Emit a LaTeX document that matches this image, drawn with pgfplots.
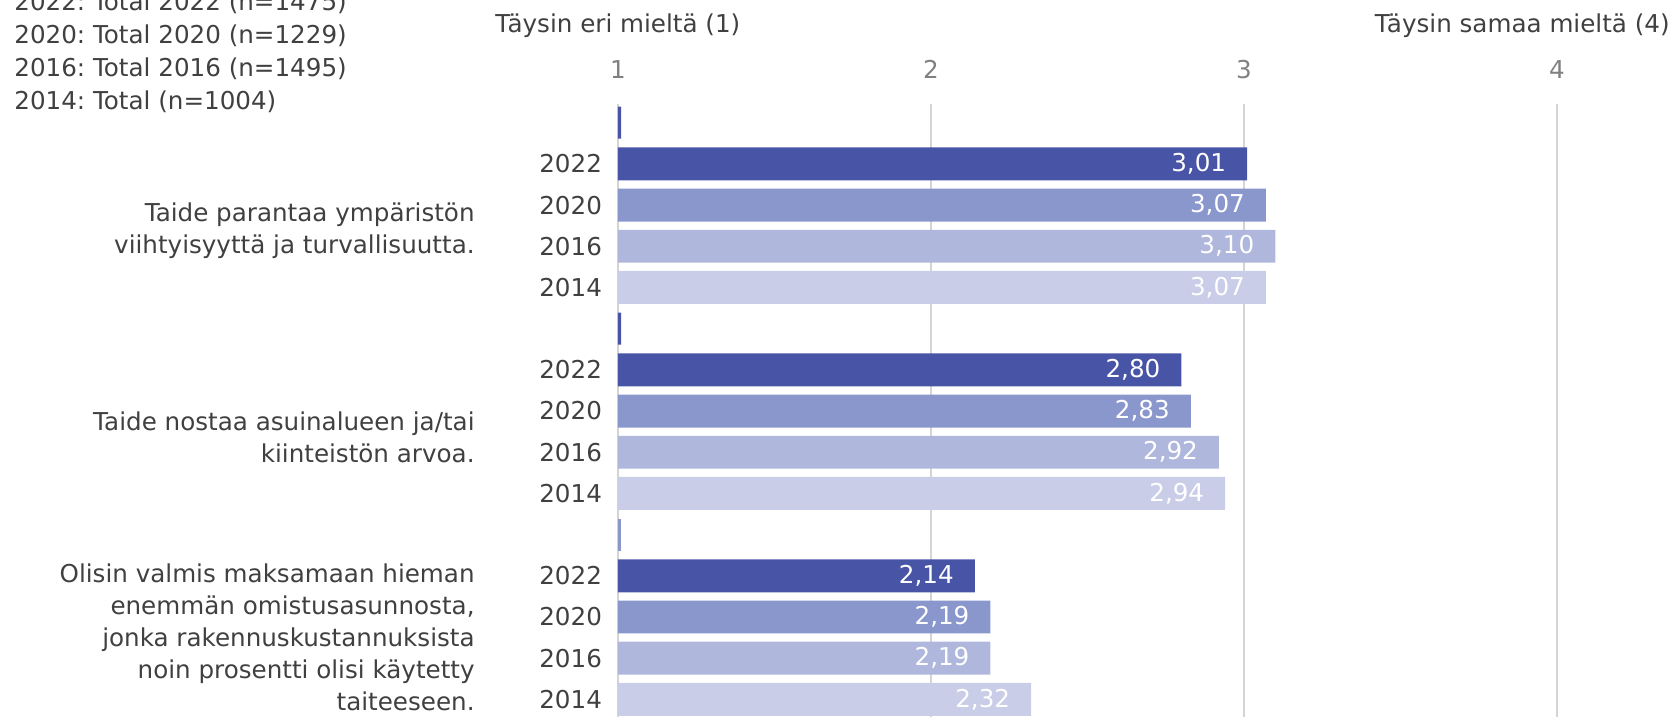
\documentclass[border=0pt]{standalone}
\usepackage{fontspec}
\setmainfont{DejaVu Sans}
\usepackage{pgfplots}
\pgfplotsset{compat=1.18}
\definecolor{c22}{HTML}{4854A5}
\definecolor{c20}{HTML}{8A97CD}
\definecolor{c16}{HTML}{B0B7DD}
\definecolor{c14}{HTML}{C9CDE8}
\definecolor{txt}{HTML}{404040}
\definecolor{tickgray}{HTML}{808080}
\definecolor{gridgray}{HTML}{D4D4D4}
\begin{document}
\begin{tikzpicture}[font=\fontsize{12.3}{16}\selectfont]
\begin{axis}[
  at={(0,0)}, anchor=north west,
  scale only axis, width=469.5pt, height=306.5pt,
  xmin=1, xmax=4, ymin=-0.46, ymax=14.42, y dir=reverse,
  enlargelimits=false,
  xbar, bar shift=0pt, bar width=0.8,
  axis line style={draw=none}, major tick length=0pt,
  xtick={1,2,3,4}, xticklabel pos=upper,
  xticklabel style={text=tickgray, anchor=center, yshift=17pt},
  xmajorgrids, grid style={gridgray, line width=0.6pt},
  ytick={1,2,3,4,6,7,8,9,11,12,13,14},
  yticklabels={2022,2020,2016,2014,2022,2020,2016,2014,2022,2020,2016,2014},
  yticklabel style={text=txt, xshift=-4.5pt},
  /pgf/number format/assume math mode=true,
  point meta=x,
  nodes near coords={\pgfmathprintnumber[fixed,zerofill,precision=2,use comma]{\pgfplotspointmeta}},
  every node near coord/.append style={anchor=east, xshift=-7pt, text=white},
  clip mode=individual,
]
% small marker bars in the empty first row of each group
\addplot[fill=c22, draw=none, bar width=0.78, nodes near coords={}] coordinates {(1.01,0) (1.01,5)};
\addplot[fill=c20, draw=none, bar width=0.78, nodes near coords={}] coordinates {(1.01,10)};
\addplot[fill=c22, draw=none] coordinates {(3.01,1) (2.80,6) (2.14,11)};
\addplot[fill=c20, draw=none] coordinates {(3.07,2) (2.83,7) (2.19,12)};
\addplot[fill=c16, draw=none] coordinates {(3.10,3) (2.92,8) (2.19,13)};
\addplot[fill=c14, draw=none] coordinates {(3.07,4) (2.94,9) (2.32,14)};

\node[anchor=east, align=right, text=txt, inner sep=0pt, xshift=-71.5pt, yshift=-2.7pt] at (axis cs:1,2.5)
  {Taide parantaa ympäristön\\viihtyisyyttä ja turvallisuutta.};
\node[anchor=east, align=right, text=txt, inner sep=0pt, xshift=-71.5pt, yshift=-2.7pt] at (axis cs:1,7.5)
  {Taide nostaa asuinalueen ja/tai\\kiinteistön arvoa.};
\node[anchor=east, align=right, text=txt, inner sep=0pt, xshift=-71.5pt] at (axis cs:1,12.5)
  {Olisin valmis maksamaan hieman\\enemmän omistusasunnosta,\\jonka rakennuskustannuksista\\noin prosentti olisi käytetty\\taiteeseen.};
\end{axis}
% scale end labels and legend text
\begin{scope}[every node/.style={text=txt, inner sep=0pt}]
\node[anchor=west] at (-61.5pt,39pt) {Täysin eri mieltä (1)};
\node[anchor=east] at (526pt,39pt) {Täysin samaa mieltä (4)};
\node[anchor=west] at (-302pt,50.5pt) {2022:\ Total 2022 (n=1475)};
\node[anchor=west] at (-302pt,34pt) {2020:\ Total 2020 (n=1229)};
\node[anchor=west] at (-302pt,17.5pt) {2016:\ Total 2016 (n=1495)};
\node[anchor=west] at (-302pt,1pt) {2014:\ Total (n=1004)};
\end{scope}
\pgfresetboundingbox
\path (-309pt,51.85pt) rectangle (527.5pt,-306.65pt);
\end{tikzpicture}
\end{document}
